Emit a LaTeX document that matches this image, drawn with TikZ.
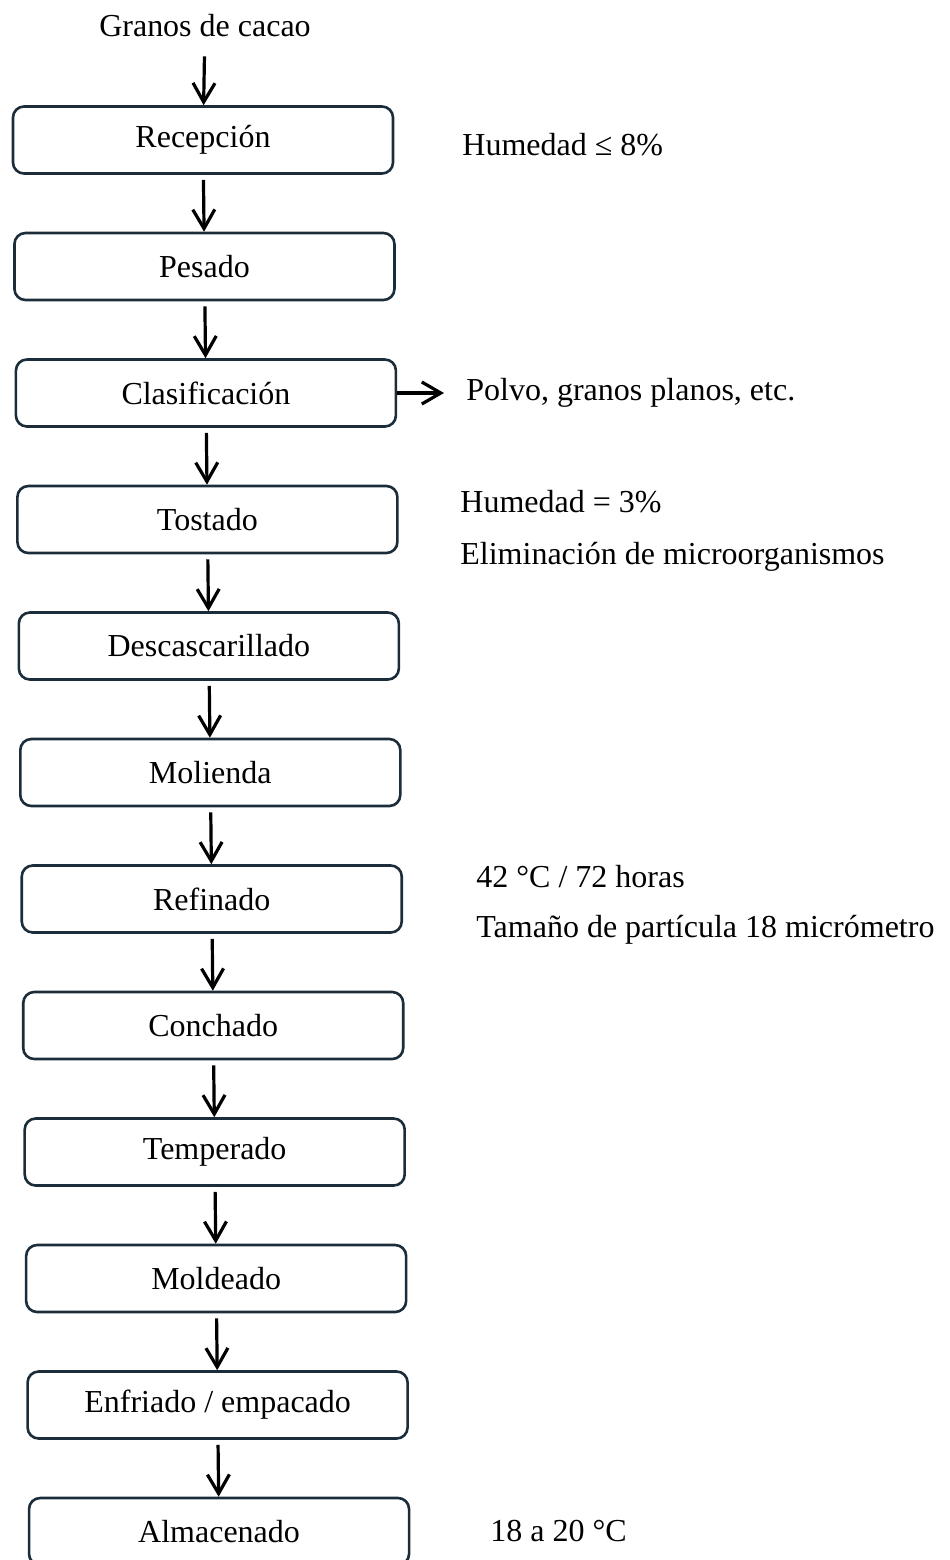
\documentclass[tikz,border=0pt]{standalone}
\usepackage{fontspec}
\setmainfont{Liberation Serif}
\usetikzlibrary{arrows.meta}
\definecolor{boxline}{HTML}{1B2D3A}
\begin{document}
\begin{tikzpicture}[x=0.5pt, y=-0.5pt, node distance=63.25pt,
        font=\fontsize{16}{19}\selectfont,
        main/.style = {draw=boxline, line width=1.3pt, rounded corners=5.5pt, minimum width=190pt, minimum height=33.5pt, inner sep=0pt},
        note/.style = {anchor=west, inner sep=0pt},
        flow/.style = {-{Straight Barb[length=9.5pt,width=11pt]}, line width=1.6pt, shorten <=2.5pt}]
            \useasboundingbox (0,0) rectangle (949,1560);
            \node (0) at (205,26)                               {Granos de cacao};
            \node[main] (1) at (203,140)                        {Recepción};
            \node[main] (2) [below of=1, xshift=0.73pt]         {Pesado};
            \node[main] (3) [below of=2, xshift=0.73pt]         {Clasificación};
            \node[main] (4) [below of=3, xshift=0.73pt]         {Tostado};
            \node[main] (5) [below of=4, xshift=0.73pt]         {Descascarillado};
            \node[main] (6) [below of=5, xshift=0.73pt]         {Molienda};
            \node[main] (7) [below of=6, xshift=0.73pt]         {Refinado};
            \node[main] (8) [below of=7, xshift=0.73pt]         {Conchado};
            \node[main] (9) [below of=8, xshift=0.73pt]         {Temperado};
            \node[main] (10) [below of=9, xshift=0.73pt]        {Moldeado};
            \node[main] (11) [below of=10, xshift=0.73pt]       {Enfriado / empacado};
            \node[main] (12) [below of=11, xshift=0.73pt]       {Almacenado};

            \node[note] (hum1) at (462,145)                     {Humedad ≤ 8\%};
            \node[note] (polvo) at (466,393)                    {Polvo, granos planos, etc.};
            \node[note] (hum2) at (460,502)                     {Humedad = 3\%};
            \node[note] (elim) at (460,557)                     {Eliminación de microorganismos};
            \node[note] (temp) at (476,877)                     {42 °C / 72 horas};
            \node[note] (part) at (476,930)                     {Tamaño de partícula 18 micrómetro};
            \node[note] (alm) at (490,1531)                     {18 a 20 °C};

            \draw[flow, shorten <=6pt] (0) -- (1);
            \foreach \a/\b in {1/2, 2/3, 3/4, 4/5, 5/6, 6/7, 7/8, 8/9, 9/10, 10/11, 11/12}
                \draw[flow] (\a) -- (\b);
            \draw[flow, shorten <=0pt, shorten >=11pt] (3) -- (polvo);
        \end{tikzpicture}
\end{document}
